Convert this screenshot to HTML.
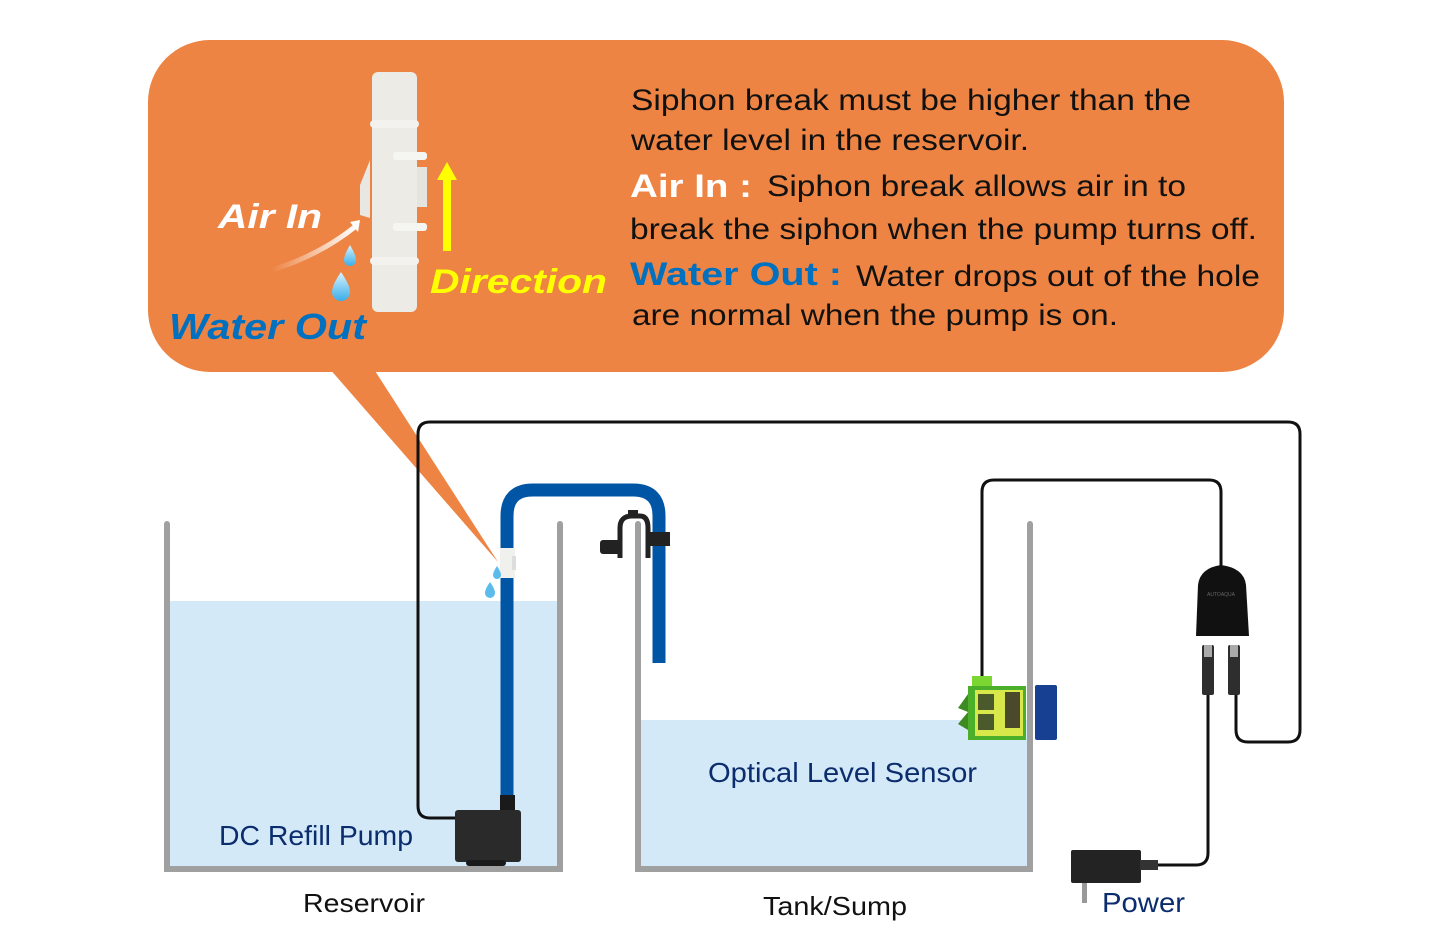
<!DOCTYPE html>
<html><head><meta charset="utf-8"><style>
html,body{margin:0;padding:0;background:#fff;}
svg{display:block;}
text{font-family:"Liberation Sans",sans-serif;}
</style></head><body>
<svg width="1440" height="950" viewBox="0 0 1440 950" xmlns="http://www.w3.org/2000/svg">
<defs>
<linearGradient id="ag" x1="0" y1="0" x2="1" y2="0"><stop offset="0" stop-color="#ED8443"/><stop offset="1" stop-color="#ffffff"/></linearGradient>
<linearGradient id="dg" x1="0" y1="0" x2="0" y2="1"><stop offset="0" stop-color="#d8f2ff"/><stop offset="1" stop-color="#3aaee8"/></linearGradient>
</defs>
<!-- bubble -->
<rect x="148" y="40" width="1136" height="332" rx="62" fill="#ED8443"/>
<polygon points="322,360 368,360 498,562" fill="#ED8443"/>
<!-- siphon break picture -->
<rect x="372" y="72" width="45" height="240" rx="6" fill="#ecebe6"/>
<rect x="370" y="120" width="49" height="8" rx="4" fill="#f3f2ee"/>
<rect x="370" y="257" width="49" height="8" rx="4" fill="#f3f2ee"/>
<rect x="393" y="152" width="34" height="8" rx="3" fill="#f5f5f2"/>
<rect x="393" y="223" width="34" height="8" rx="3" fill="#f5f5f2"/>
<rect x="417" y="167" width="10" height="40" fill="#e5e4df"/>
<polygon points="370,160 360,185 360,215 370,218" fill="#e8e7e2"/>
<path d="M272,270 Q320,255 356,226" stroke="url(#ag)" stroke-width="5" fill="none"/>
<polygon points="350,222 360,220 358,232" fill="#fff"/>
<path d="M350,245 q-6,10 -6,15 a6,6 0 0 0 12,0 q0,-5 -6,-15z" fill="url(#dg)"/>
<path d="M341,272 q-9,13 -9,20 a9,9 0 0 0 18,0 q0,-7 -9,-20z" fill="url(#dg)"/>
<rect x="443" y="178" width="8" height="73" fill="#ffff00"/>
<polygon points="437,180 457,180 447,162" fill="#ffff00"/>
<text x="218" y="228" font-size="34" font-weight="bold" font-style="italic" fill="#fff" textLength="104" lengthAdjust="spacingAndGlyphs">Air In</text>
<text x="169" y="339" font-size="36" font-weight="bold" font-style="italic" fill="#0070c0" textLength="197" lengthAdjust="spacingAndGlyphs">Water Out</text>
<text x="430" y="293" font-size="34" font-weight="bold" font-style="italic" fill="#ffff00" textLength="177" lengthAdjust="spacingAndGlyphs">Direction</text>
<!-- paragraph -->
<g font-size="30" fill="#111">
<text x="631" y="110" textLength="560" lengthAdjust="spacingAndGlyphs">Siphon break must be higher than the</text>
<text x="631" y="150" textLength="398" lengthAdjust="spacingAndGlyphs">water level in the reservoir.</text>
<text x="630" y="197" font-weight="bold" fill="#fff" font-size="32" textLength="122" lengthAdjust="spacingAndGlyphs">Air In :</text>
<text x="767" y="196" textLength="419" lengthAdjust="spacingAndGlyphs">Siphon break allows air in to</text>
<text x="630" y="239" textLength="627" lengthAdjust="spacingAndGlyphs">break the siphon when the pump turns off.</text>
<text x="630" y="285" font-weight="bold" fill="#0070c0" font-size="32" textLength="212" lengthAdjust="spacingAndGlyphs">Water Out :</text>
<text x="856" y="286" textLength="404" lengthAdjust="spacingAndGlyphs">Water drops out of the hole</text>
<text x="632" y="325" textLength="486" lengthAdjust="spacingAndGlyphs">are normal when the pump is on.</text>
</g>
<!-- water -->
<rect x="170" y="601" width="387" height="265" fill="#d3e9f7"/>
<rect x="641" y="720" width="386" height="146" fill="#d3e9f7"/>
<!-- tanks -->
<path d="M167,524 V869 H560 V524" stroke="#a0a0a0" stroke-width="6" fill="none" stroke-linecap="round"/>
<path d="M638,524 V869 H1030 V524" stroke="#a0a0a0" stroke-width="6" fill="none" stroke-linecap="round"/>
<!-- wires -->
<path d="M458,818 H430 Q418,818 418,806 V434 Q418,422 430,422 H1288 Q1300,422 1300,434 V730 Q1300,742 1288,742 H1248 Q1236,742 1236,730 V690" stroke="#111" stroke-width="3" fill="none"/>
<path d="M982,680 V492 Q982,480 994,480 H1209 Q1221,480 1221,492 V568" stroke="#111" stroke-width="3" fill="none"/>
<path d="M1208,690 V853 Q1208,865 1196,865 H1150" stroke="#111" stroke-width="3" fill="none"/>
<!-- blue tube -->
<path d="M507,800 V516 Q507,490 533,490 H633 Q659,490 659,516 V663" stroke="#0055a5" stroke-width="13" fill="none"/>
<rect x="500" y="548" width="15" height="30" fill="#f0f0ec"/>
<rect x="512" y="556" width="4" height="14" fill="#ddd"/>
<path d="M497,566 q-4,6 -4,9 a4,4 0 0 0 8,0 q0,-3 -4,-9z" fill="#5bbcec"/>
<path d="M490,582 q-5,7 -5,11 a5,5 0 0 0 10,0 q0,-4 -5,-11z" fill="#5bbcec"/>
<!-- clamp -->
<path d="M620,558 V528 Q620,516 632,516 H640 Q648,516 648,528 V558" stroke="#222" stroke-width="5" fill="none"/>
<rect x="628" y="510" width="10" height="8" fill="#222"/>
<rect x="600" y="540" width="20" height="14" rx="3" fill="#222"/>
<rect x="648" y="532" width="22" height="14" fill="#222"/>
<!-- pump -->
<rect x="500" y="795" width="15" height="16" fill="#1a1a1a"/>
<rect x="455" y="810" width="66" height="52" rx="3" fill="#2a2a2a"/>
<rect x="466" y="860" width="40" height="6" rx="3" fill="#1a1a1a"/>
<!-- sensor -->
<rect x="972" y="676" width="20" height="12" fill="#7cd631"/>
<rect x="968" y="686" width="58" height="54" fill="#4caf2a"/>
<rect x="975" y="690" width="48" height="46" fill="#d8e84a"/>
<rect x="978" y="694" width="16" height="16" fill="#4a5a2a"/>
<rect x="978" y="714" width="16" height="16" fill="#4a5a2a"/>
<rect x="1005" y="692" width="15" height="36" fill="#4a4a2a"/>
<polygon points="968,694 958,708 968,712 958,724 968,730" fill="#3d8a22"/>
<rect x="1035" y="685" width="22" height="55" rx="2" fill="#173f92"/>
<!-- controller -->
<path d="M1196,636 L1198,585 Q1200,568 1221,565 Q1244,568 1246,585 L1249,636 Z" fill="#111"/>
<text x="1221" y="596" font-size="5" fill="#666" text-anchor="middle">AUTOAQUA</text>
<rect x="1202" y="645" width="12" height="50" rx="2" fill="#2e2e2e"/>
<rect x="1228" y="645" width="12" height="50" rx="2" fill="#2e2e2e"/>
<rect x="1204" y="645" width="8" height="12" fill="#aaa"/>
<rect x="1230" y="645" width="8" height="12" fill="#aaa"/>
<!-- adapter -->
<rect x="1071" y="850" width="70" height="33" rx="2" fill="#232323"/>
<rect x="1140" y="860" width="18" height="10" fill="#333"/>
<rect x="1082" y="883" width="5" height="20" fill="#999"/>
<!-- labels -->
<text x="219" y="845" font-size="28" fill="#0b2d6e" textLength="194" lengthAdjust="spacingAndGlyphs">DC Refill Pump</text>
<text x="708" y="782" font-size="28" fill="#0b2d6e" textLength="269" lengthAdjust="spacingAndGlyphs">Optical Level Sensor</text>
<text x="303" y="912" font-size="26" fill="#111" textLength="122" lengthAdjust="spacingAndGlyphs">Reservoir</text>
<text x="763" y="915" font-size="26" fill="#111" textLength="144" lengthAdjust="spacingAndGlyphs">Tank/Sump</text>
<text x="1102" y="912" font-size="28" fill="#0b2d6e" textLength="83" lengthAdjust="spacingAndGlyphs">Power</text>
</svg>
</body></html>
